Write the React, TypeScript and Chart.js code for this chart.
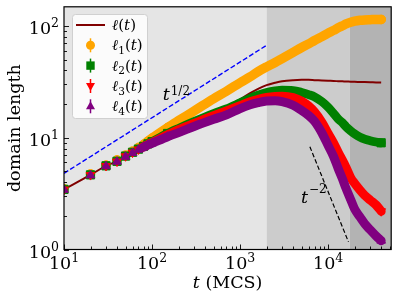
import React, { useEffect, useRef } from "react";
import { Chart, registerables } from "chart.js";
Chart.register(...registerables);

// ---- data ----
const times = [10, 20, 30, 40, 50, 60, 70, 80, 90, 100, 150, 200, 300, 500, 700, 1000, 1300, 1600, 2000, 2500, 3000, 4000, 5000, 6000, 7000, 8500, 10000, 11500, 13000, 14500, 16000, 18000, 20000, 23000, 26000, 30000, 35000, 40000];

const ellTotal = [3.45, 4.65, 5.6, 6.15, 6.85, 7.4, 7.9, 8.35, 8.8, 9.2, 11, 12.3, 14.2, 17, 19, 22, 25, 27.3, 29.5, 31, 32, 32.7, 32.9, 32.9, 32.7, 32.5, 32.3, 32.1, 32, 31.9, 31.8, 31.7, 31.6, 31.5, 31.4, 31.3, 31.2, 31.1];
const ell1 = [3.5, 4.75, 5.7, 6.35, 7.0, 7.6, 8.2, 8.7, 9.3, 9.9, 12.3, 14.2, 17.3, 22.3, 26, 31, 35, 39, 43, 47, 51, 58, 64, 69, 74, 80, 86, 91, 96, 100, 104, 107.5, 110, 112, 113, 113.5, 114, 114];
const ell2 = [3.45, 4.65, 5.6, 6.15, 6.85, 7.4, 7.9, 8.35, 8.8, 9.2, 10.9, 12.1, 13.9, 16.4, 18.1, 20.5, 22.5, 24, 25.3, 26.2, 26.6, 26.4, 25.4, 24.3, 23.2, 21, 18.7, 16.5, 14.7, 13.6, 12.5, 11.5, 10.8, 10.1, 9.7, 9.4, 9.15, 9.0];
const ell3 = [3.44, 4.63, 5.58, 6.12, 6.82, 7.36, 7.85, 8.3, 8.7, 9.05, 10.6, 11.8, 13.4, 15.7, 17.3, 19.3, 21, 22, 22.9, 23.4, 23.5, 22.8, 21.2, 19.2, 17, 13.7, 10.9, 9.0, 7.4, 6.3, 5.4, 4.4, 3.9, 3.4, 3.05, 2.76, 2.5, 2.2];
const ell4 = [3.42, 4.6, 5.55, 6.1, 6.75, 7.3, 7.8, 8.2, 8.6, 8.9, 10.2, 11.1, 12.6, 14.6, 16, 18.2, 19.7, 20.6, 21.3, 21.4, 21, 19.5, 17.5, 15.8, 14, 11, 8.5, 6.8, 5.3, 4.3, 3.5, 2.8, 2.3, 1.95, 1.7, 1.5, 1.32, 1.2];

const guideHalfT = [10, 2000];
const guideHalfV = [4.8, 67];
const guideMinus2T = [6200, 17000];
const guideMinus2V = [8.3, 1.17];

const xMajorTicks = [10, 100, 1000, 10000];
const xTickExps = ["1", "2", "3", "4"];
const yMajorTicks = [1, 10, 100];
const yTickExps = ["0", "1", "2"];

const shadeEdges = [10, 2000, 17500, 52000];
const shadeColors = ["#e5e5e5", "#cccccc", "#b3b3b3"];

const legendSubs = ["", "1", "2", "3", "4"];
const xTitle = ["t", " (MCS)"];
const yTitle = "domain length";
const halfLabelAt = { t: 132, v: 21.6 };
const minus2LabelAt = { t: 4920, v: 2.63 };

const FONT = '"DejaVu Serif", serif';
const COLORS = ["#800000", "#ffa500", "#008000", "#ff0000", "#800080"];

function drawPower(ctx: CanvasRenderingContext2D, base: string, exp: string, x: number, baseline: number, align: string, size: number, supSize: number, rise: number, italicBase = false) {
  ctx.font = `${italicBase ? "italic " : ""}${size}px ${FONT}`;
  const wb = ctx.measureText(base).width;
  ctx.font = `${supSize}px ${FONT}`;
  const we = ctx.measureText(exp).width;
  const total = wb + we;
  const x0 = align === "left" ? x : align === "center" ? x - total / 2 : x - total;
  ctx.textAlign = "left";
  ctx.textBaseline = "alphabetic";
  ctx.font = `${italicBase ? "italic " : ""}${size}px ${FONT}`;
  ctx.fillText(base, x0, baseline);
  ctx.font = `${supSize}px ${FONT}`;
  ctx.fillText(exp, x0 + wb + (italicBase ? 1 : 0), baseline - rise);
}

function drawMarker(ctx: CanvasRenderingContext2D, kind: number, x: number, y: number, color: string) {
  ctx.fillStyle = color;
  ctx.beginPath();
  if (kind === 1) {
    ctx.arc(x, y, 4.5, 0, Math.PI * 2);
  } else if (kind === 2) {
    ctx.rect(x - 4.2, y - 4.2, 8.4, 8.4);
  } else if (kind === 3) {
    ctx.moveTo(x - 4.5, y - 3);
    ctx.lineTo(x + 4.5, y - 3);
    ctx.lineTo(x, y + 5);
    ctx.closePath();
  } else {
    ctx.moveTo(x - 4.5, y + 3);
    ctx.lineTo(x + 4.5, y + 3);
    ctx.lineTo(x, y - 5);
    ctx.closePath();
  }
  ctx.fill();
}

const decorPlugin = {
  id: "decor",
  beforeDatasetsDraw(chart: any) {
    const { ctx, chartArea: a, scales } = chart;
    const xs = scales.x;
    ctx.save();
    for (let i = 0; i < shadeColors.length; i++) {
      const x0 = Math.max(a.left, xs.getPixelForValue(shadeEdges[i]));
      const x1 = Math.min(a.right, xs.getPixelForValue(shadeEdges[i + 1]));
      ctx.fillStyle = shadeColors[i];
      ctx.fillRect(x0, a.top, x1 - x0, a.bottom - a.top);
    }
    ctx.restore();
  },
  afterDatasetsDraw(chart: any) {
    const { ctx, chartArea: a, scales } = chart;
    const xs = scales.x;
    const ys = scales.y;
    ctx.save();
    // frame
    ctx.strokeStyle = "#000";
    ctx.lineWidth = 1.2;
    ctx.strokeRect(a.left, a.top, a.right - a.left, a.bottom - a.top);
    // ticks
    ctx.lineWidth = 0.9;
    ctx.beginPath();
    for (let d = 1; d <= 4; d++) {
      for (let m = 1; m <= 9; m++) {
        const v = m * Math.pow(10, d);
        if (v < xs.min || v > xs.max) continue;
        const px = Math.round(xs.getPixelForValue(v)) + 0.5;
        const len = m === 1 ? 5 : 3;
        ctx.moveTo(px, a.bottom);
        ctx.lineTo(px, a.bottom - len);
      }
    }
    for (let d = 0; d <= 2; d++) {
      for (let m = 1; m <= 9; m++) {
        const v = m * Math.pow(10, d);
        if (v < ys.min || v > ys.max) continue;
        const py = Math.round(ys.getPixelForValue(v)) + 0.5;
        const len = m === 1 ? 5 : 3;
        ctx.moveTo(a.left, py);
        ctx.lineTo(a.left + len, py);
      }
    }
    ctx.stroke();
    // tick labels
    ctx.fillStyle = "#000";
    xMajorTicks.forEach((v, i) => {
      const px = xs.getPixelForValue(v);
      drawPower(ctx, "10", xTickExps[i], px, a.bottom + 19, "center", 17.5, 12.5, 6.5);
    });
    yMajorTicks.forEach((v, i) => {
      const py = ys.getPixelForValue(v);
      drawPower(ctx, "10", yTickExps[i], a.left - 5, py + 8, "right", 17.5, 12.5, 6.5);
    });
    // axis titles
    ctx.font = `italic 17.5px ${FONT}`;
    const wt = ctx.measureText(xTitle[0]).width;
    ctx.font = `17.5px ${FONT}`;
    const wr = ctx.measureText(xTitle[1]).width;
    const cx = (a.left + a.right) / 2;
    const sx = cx - (wt + wr) / 2;
    ctx.textAlign = "left";
    ctx.textBaseline = "alphabetic";
    ctx.font = `italic 17.5px ${FONT}`;
    ctx.fillText(xTitle[0], sx, 287.5);
    ctx.font = `17.5px ${FONT}`;
    ctx.fillText(xTitle[1], sx + wt, 287.5);

    ctx.save();
    ctx.translate(19.5, (a.top + a.bottom) / 2);
    ctx.rotate(-Math.PI / 2);
    ctx.textAlign = "center";
    ctx.font = `17.5px ${FONT}`;
    ctx.fillText(yTitle, 0, 0);
    ctx.restore();

    // guide labels
    drawPower(ctx, "t", "1/2", xs.getPixelForValue(halfLabelAt.t), ys.getPixelForValue(halfLabelAt.v), "left", 17.5, 12, 5.5, true);
    drawPower(ctx, "t", "\u22122", xs.getPixelForValue(minus2LabelAt.t), ys.getPixelForValue(minus2LabelAt.v), "left", 17.5, 12, 10, true);

    // legend
    const lx = 72, ly = 14, lw = 75, lh = 104;
    ctx.beginPath();
    ctx.roundRect(lx + 0.5, ly + 0.5, lw, lh, 3);
    ctx.fillStyle = "rgba(255,255,255,0.85)";
    ctx.fill();
    ctx.strokeStyle = "#d0d0d0";
    ctx.lineWidth = 1;
    ctx.stroke();
    const rows = [25, 45.3, 65.6, 86, 106.3];
    rows.forEach((ry, i) => {
      const color = COLORS[i];
      if (i === 0) {
        ctx.strokeStyle = color;
        ctx.lineWidth = 2;
        ctx.beginPath();
        ctx.moveTo(76, ry);
        ctx.lineTo(105, ry);
        ctx.stroke();
      } else {
        ctx.strokeStyle = color;
        ctx.lineWidth = 1.5;
        ctx.beginPath();
        ctx.moveTo(90.5, ry - 7);
        ctx.lineTo(90.5, ry + 7);
        ctx.stroke();
        drawMarker(ctx, i, 90.5, ry, color);
      }
      ctx.fillStyle = "#000";
      ctx.textAlign = "left";
      ctx.textBaseline = "alphabetic";
      let x = 112;
      const bl = ry + 5;
      ctx.font = `italic 15px ${FONT}`;
      ctx.fillText("\u2113", x, bl);
      x += ctx.measureText("\u2113").width;
      if (legendSubs[i]) {
        ctx.font = `10.5px ${FONT}`;
        ctx.fillText(legendSubs[i], x, bl + 3.5);
        x += ctx.measureText(legendSubs[i]).width;
      }
      ctx.font = `15px ${FONT}`;
      ctx.fillText("(", x, bl);
      x += ctx.measureText("(").width;
      ctx.font = `italic 15px ${FONT}`;
      ctx.fillText("t", x, bl);
      x += ctx.measureText("t").width;
      ctx.font = `15px ${FONT}`;
      ctx.fillText(")", x, bl);
    });
    ctx.restore();
  },
};

export default function App() {
  const ref = useRef<HTMLCanvasElement>(null);
  useEffect(() => {
    document.body.style.margin = "0";
    const canvas = ref.current!;
    const pts = (vals: number[]) => times.map((t, i) => ({ x: t, y: vals[i] }));
    const last = times.length - 1;
    const series = (label: string, vals: number[], color: string, style: string, rot: number, r: number, order: number, bw: number) => ({
      label,
      data: pts(vals),
      borderColor: color,
      backgroundColor: color,
      pointStyle: style,
      pointRotation: rot,
      pointRadius: (c: any) => (c.dataIndex <= 10 || c.dataIndex === last ? r : 0),
      pointBorderWidth: 1,
      pointBorderColor: color,
      pointBackgroundColor: color,
      borderWidth: bw,
      borderCapStyle: "round",
      borderJoinStyle: "round",
      cubicInterpolationMode: "monotone",
      segment: { borderColor: (c: any) => (c.p0.parsed.x < 75 ? "rgba(0,0,0,0)" : color) },
      order,
      clip: 0,
      fill: false,
    });
    const chart = new Chart(canvas, {
      type: "line",
      data: {
        datasets: [
          {
            label: "l(t)",
            data: pts(ellTotal),
            borderColor: COLORS[0],
            borderWidth: 2,
            pointRadius: 0,
            cubicInterpolationMode: "monotone",
            order: 10,
            clip: 0,
            fill: false,
          } as any,
          series("l1", ell1, COLORS[1], "circle", 0, 4.3, 8, 9.5),
          series("l2", ell2, COLORS[2], "rect", 0, 5.8, 7, 8.8),
          series("l3", ell3, COLORS[3], "triangle", 180, 5, 6, 9),
          series("l4", ell4, COLORS[4], "triangle", 0, 5, 5, 9),
          {
            label: "half",
            data: guideHalfT.map((t, i) => ({ x: t, y: guideHalfV[i] })),
            borderColor: "#0000ff",
            borderWidth: 1.4,
            borderDash: [5, 2.3],
            pointRadius: 0,
            order: 1,
            clip: 0,
            fill: false,
          } as any,
          {
            label: "minus2",
            data: guideMinus2T.map((t, i) => ({ x: t, y: guideMinus2V[i] })),
            borderColor: "#000000",
            borderWidth: 1.2,
            borderDash: [4.5, 2.3],
            pointRadius: 0,
            order: 1,
            clip: 0,
            fill: false,
          } as any,
        ],
      },
      options: {
        responsive: false,
        animation: false,
        parsing: true,
        layout: { padding: { left: 64, right: 6.3, top: 6, bottom: 50.5 } },
        scales: {
          x: { type: "logarithmic", min: 10, max: 52000, display: false },
          y: { type: "logarithmic", min: 1, max: 148, display: false },
        },
        plugins: { legend: { display: false }, tooltip: { enabled: false } },
      } as any,
      plugins: [decorPlugin],
    });
    return () => chart.destroy();
  }, []);
  return <canvas ref={ref} width={398} height={300} style={{ display: "block" }} />;
}
